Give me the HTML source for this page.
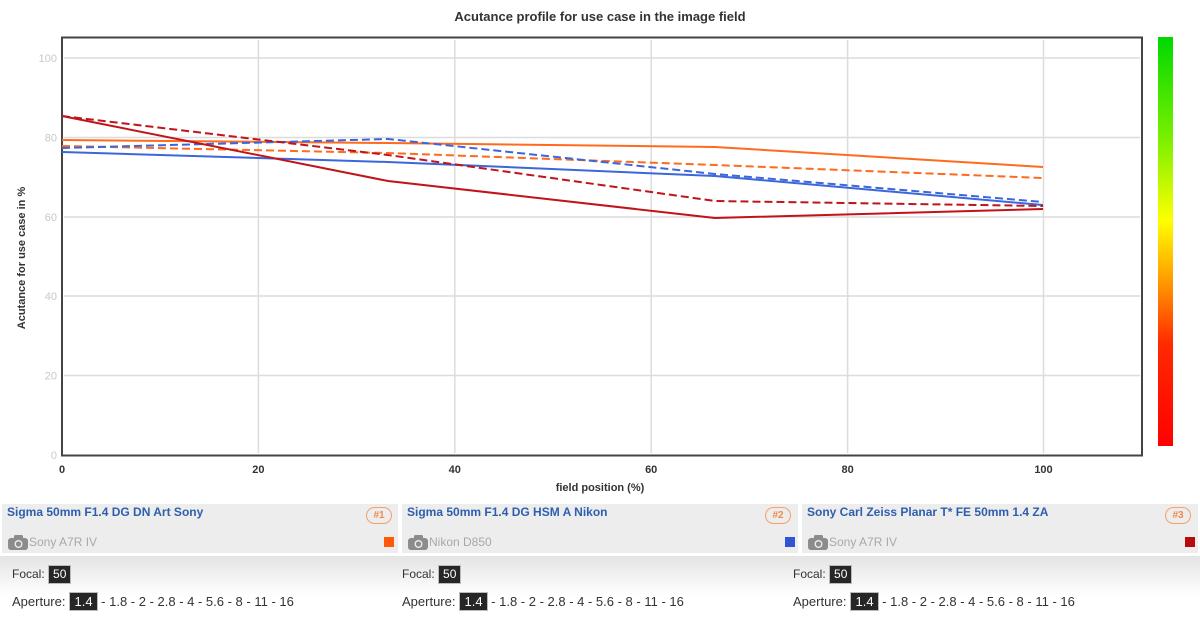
<!DOCTYPE html>
<html><head><meta charset="utf-8">
<style>
html,body{margin:0;padding:0;background:#fff;}
body{width:1200px;height:618px;position:relative;overflow:hidden;font-family:"Liberation Sans",Arial,sans-serif;}
.panel{position:absolute;top:504px;height:49px;background:#ededed;}
.lens{position:absolute;left:5px;top:1px;font-size:12px;font-weight:bold;color:#2e5fae;white-space:nowrap;}
.cam{position:absolute;left:6px;top:30px;font-size:12px;color:#a8a8a8;white-space:nowrap;display:flex;align-items:center;}
.badge{position:absolute;top:3px;width:24px;height:15px;border:1.5px solid #f5a06a;border-radius:9px;color:#f08a4a;font-size:10px;font-weight:bold;text-align:center;line-height:15px;}
.sq{position:absolute;top:33px;width:10px;height:10px;}
.sub{position:absolute;top:556px;height:40px;background:linear-gradient(#e4e4e4,#fff);}
.row{position:absolute;font-size:13px;color:#333;white-space:nowrap;}
.row.f{font-size:12px;}
.box{display:inline-block;background:#262626;color:#fff;padding:1px 4px;border:1px solid #bbb;font-size:13px;line-height:15px;}
.row.f .box{font-size:12px;}
.ap .box{margin-left:4px;}
</style></head><body>
<svg width="1200" height="500" style="position:absolute;left:0;top:0" xmlns="http://www.w3.org/2000/svg">
<defs>
<linearGradient id="cb" x1="0" y1="0" x2="0" y2="1">
<stop offset="0" stop-color="#00d800"/>
<stop offset="0.25" stop-color="#7af000"/>
<stop offset="0.45" stop-color="#ffff00"/>
<stop offset="0.62" stop-color="#ff8a00"/>
<stop offset="0.75" stop-color="#ff2a00"/>
<stop offset="1" stop-color="#ff0000"/>
</linearGradient>
</defs>
<text x="600" y="21" text-anchor="middle" font-size="13" font-weight="bold" fill="#333">Acutance profile for use case in the image field</text>
<g stroke="#dcdcdc" stroke-width="1.5">
<line x1="64" y1="58" x2="1140" y2="58"/>
<line x1="64" y1="137.5" x2="1140" y2="137.5"/>
<line x1="64" y1="217" x2="1140" y2="217"/>
<line x1="64" y1="296" x2="1140" y2="296"/>
<line x1="64" y1="375.5" x2="1140" y2="375.5"/>
<line x1="258.4" y1="40" x2="258.4" y2="453"/>
<line x1="454.8" y1="40" x2="454.8" y2="453"/>
<line x1="651.2" y1="40" x2="651.2" y2="453"/>
<line x1="847.6" y1="40" x2="847.6" y2="453"/>
<line x1="1043.5" y1="40" x2="1043.5" y2="453"/>
</g>
<rect x="62" y="37.5" width="1080" height="418" fill="none" stroke="#444" stroke-width="2"/>
<g font-size="11" fill="#c8c8c8" text-anchor="end">
<text x="57" y="62">100</text>
<text x="57" y="141.5">80</text>
<text x="57" y="221">60</text>
<text x="57" y="300">40</text>
<text x="57" y="379.5">20</text>
<text x="57" y="459">0</text>
</g>
<g font-size="11" font-weight="bold" fill="#333" text-anchor="middle">
<text x="62" y="473">0</text>
<text x="258.4" y="473">20</text>
<text x="454.8" y="473">40</text>
<text x="651.2" y="473">60</text>
<text x="847.6" y="473">80</text>
<text x="1043.5" y="473">100</text>
<text x="600" y="491">field position (%)</text>
</g>
<text transform="translate(25,258) rotate(-90)" text-anchor="middle" font-size="11" font-weight="bold" fill="#333">Acutance for use case in %</text>
<g fill="none" stroke-width="2" stroke-linejoin="round">
<polyline stroke="#ff6a1c" points="62,140 388,143 715,147 1043,167"/>
<polyline stroke="#ff6a1c" stroke-dasharray="8,4" points="62,146 388,153 715,165 1043,178"/>
<polyline stroke="#3b66dc" points="62,152 388,162 715,176 1043,205"/>
<polyline stroke="#3b66dc" stroke-dasharray="8,4" points="62,148 388,139 715,174 1043,202"/>
<polyline stroke="#c0141a" points="62,116 388,181 715,218 1043,209"/>
<polyline stroke="#c0141a" stroke-dasharray="8,4" points="62,116 388,155 715,201 1043,206"/>
</g>
<rect x="1158" y="37" width="15" height="409" fill="url(#cb)"/>
</svg>

<div class="panel" style="left:2px;width:396px;">
<div class="lens">Sigma 50mm F1.4 DG DN Art Sony</div>
<div class="badge" style="left:364px;">#1</div>
<div class="cam"><svg width="21" height="16" viewBox="0 0 21 16"><rect x="0" y="4" width="20" height="12" rx="3" fill="#8c8c8c"/><rect x="6" y="1" width="9" height="5" rx="1.5" fill="#8c8c8c"/><circle cx="10.5" cy="10" r="4" fill="#ededed"/><circle cx="10.5" cy="10" r="2.6" fill="#8c8c8c"/></svg>Sony A7R IV</div>
<div class="sq" style="left:382px;background:#ff5a0a;"></div>
</div>
<div class="panel" style="left:402px;width:396px;">
<div class="lens">Sigma 50mm F1.4 DG HSM A Nikon</div>
<div class="badge" style="left:363px;">#2</div>
<div class="cam"><svg width="21" height="16" viewBox="0 0 21 16"><rect x="0" y="4" width="20" height="12" rx="3" fill="#8c8c8c"/><rect x="6" y="1" width="9" height="5" rx="1.5" fill="#8c8c8c"/><circle cx="10.5" cy="10" r="4" fill="#ededed"/><circle cx="10.5" cy="10" r="2.6" fill="#8c8c8c"/></svg>Nikon D850</div>
<div class="sq" style="left:383px;background:#2f55d4;"></div>
</div>
<div class="panel" style="left:802px;width:396px;">
<div class="lens">Sony Carl Zeiss Planar T* FE 50mm 1.4 ZA</div>
<div class="badge" style="left:363px;">#3</div>
<div class="cam"><svg width="21" height="16" viewBox="0 0 21 16"><rect x="0" y="4" width="20" height="12" rx="3" fill="#8c8c8c"/><rect x="6" y="1" width="9" height="5" rx="1.5" fill="#8c8c8c"/><circle cx="10.5" cy="10" r="4" fill="#ededed"/><circle cx="10.5" cy="10" r="2.6" fill="#8c8c8c"/></svg>Sony A7R IV</div>
<div class="sq" style="left:383px;background:#b80c0c;"></div>
</div>

<div class="sub" style="left:0;width:1200px;"></div>

<div class="row f" style="left:12px;top:565px;">Focal: <span class="box">50</span></div>
<div class="row ap" style="left:12px;top:592px;">Aperture:<span class="box">1.4</span> - 1.8 - 2 - 2.8 - 4 - 5.6 - 8 - 11 - 16</div>
<div class="row f" style="left:402px;top:565px;">Focal: <span class="box">50</span></div>
<div class="row ap" style="left:402px;top:592px;">Aperture:<span class="box">1.4</span> - 1.8 - 2 - 2.8 - 4 - 5.6 - 8 - 11 - 16</div>
<div class="row f" style="left:793px;top:565px;">Focal: <span class="box">50</span></div>
<div class="row ap" style="left:793px;top:592px;">Aperture:<span class="box">1.4</span> - 1.8 - 2 - 2.8 - 4 - 5.6 - 8 - 11 - 16</div>
</body></html>
